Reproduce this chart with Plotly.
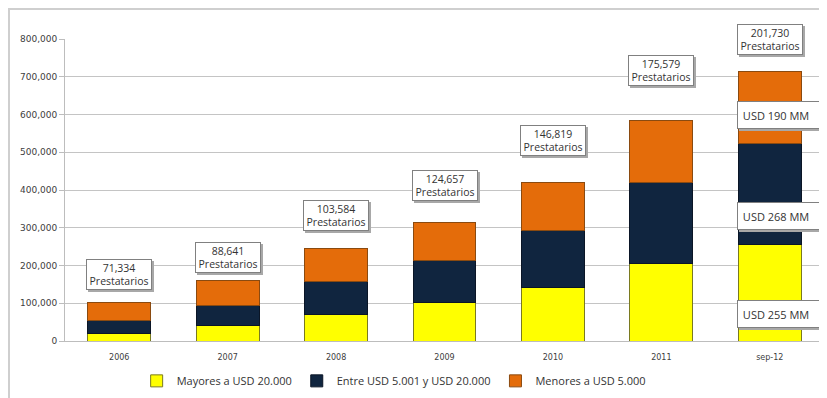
import plotly.graph_objects as go

categories = ["2006", "2007", "2008", "2009", "2010", "2011", "sep-12"]
mayores = [19000, 42000, 71000, 101000, 142000, 206000, 255000]
entre = [36000, 53000, 86000, 111000, 150000, 213000, 268000]
menores = [48000, 66000, 89000, 102000, 127000, 164000, 190000]
prestatarios = ["71,334", "88,641", "103,584", "124,657", "146,819", "175,579", "201,730"]
box_y = [176000, 220000, 332000, 411000, 531000, 717000, 798000]
usd_labels = ["USD 255 MM", "USD 268 MM", "USD 190 MM"]
usd_y = [71500, 331000, 599000]

series_names = ["Mayores a USD 20.000", "Entre USD 5.001 y USD 20.000", "Menores a USD 5.000"]
colors = ["#FFFF00", "#10253F", "#E46C0A"]
edge = ["#7a7a20", "#0a1526", "#8a4a10"]

fig = go.Figure()
for name, vals, c, e in zip(series_names, [mayores, entre, menores], colors, edge):
    fig.add_trace(go.Bar(x=categories, y=vals, name=name,
                         marker=dict(color=c, line=dict(color=e, width=1))))

ann_font = dict(family="Open Sans, Arial", size=10.5, color="#333333")
for i, (txt, yy) in enumerate(zip(prestatarios, box_y)):
    label = f"{txt}<br>Prestatarios"
    # shadow box
    fig.add_annotation(x=i, y=yy, xref="x", yref="y", text="&nbsp;", showarrow=False,
                       font=dict(size=9, color="rgba(0,0,0,0)"),
                       bgcolor="#a8a8a8", bordercolor="#a8a8a8", borderwidth=1,
                       width=62, height=27, borderpad=1, xshift=2, yshift=-2)
    fig.add_annotation(x=i, y=yy, xref="x", yref="y", text=label, showarrow=False,
                       font=ann_font, bgcolor="white", bordercolor="#808080", borderwidth=1,
                       width=62, height=27, borderpad=1)

last = len(categories) - 1
for txt, yy in zip(usd_labels, usd_y):
    fig.add_annotation(x=last, y=yy, xref="x", yref="y", text="&nbsp;", showarrow=False,
                       font=dict(size=9, color="rgba(0,0,0,0)"),
                       bgcolor="#a8a8a8", bordercolor="#a8a8a8", borderwidth=1,
                       width=100, height=22, borderpad=2, align="left",
                       xanchor="left", xshift=-31, yshift=-2)
    fig.add_annotation(x=last, y=yy, xref="x", yref="y", text="&nbsp;" + txt, showarrow=False,
                       font=dict(family="Open Sans, Arial", size=11, color="#333333"),
                       bgcolor="white", bordercolor="#808080", borderwidth=1,
                       width=100, height=22, borderpad=2, align="left",
                       xanchor="left", xshift=-33)

# outer chart frame (at the figure edge)
fig.add_shape(type="rect", xref="paper", yref="paper",
              x0=-0.0738, x1=1.2, y0=-0.4, y1=1.0993,
              line=dict(color="#cfcfcf", width=2), fillcolor="rgba(0,0,0,0)", layer="below")

fig.update_layout(
    width=827, height=398,
    margin=dict(l=57, r=11, t=31, b=65),
    barmode="stack", bargap=0.42,
    plot_bgcolor="white", paper_bgcolor="white",
    font=dict(family="DejaVu Sans, Verdana", size=8, color="#404040"),
    showlegend=True,
    legend=dict(orientation="h", x=0.433, y=-0.132, xanchor="center", yanchor="middle",
                font=dict(family="Open Sans, Arial", size=11, color="#333333"),
                traceorder="normal"),
    xaxis=dict(type="category", categoryorder="array", categoryarray=categories,
               range=[-0.5, len(categories) - 0.5],
               showline=True, linecolor="#bdbdbd", linewidth=1, ticks="",
               ticklabelstandoff=8,
               tickfont=dict(size=8, color="#404040")),
    yaxis=dict(range=[0, 800000], dtick=100000, tickformat=",d",
               showgrid=True, gridcolor="#c4c4c4", gridwidth=1,
               showline=True, linecolor="#bdbdbd", linewidth=1,
               ticks="outside", ticklen=5, tickcolor="#bdbdbd",
               tickfont=dict(size=9, color="#404040"), zeroline=False),
)

fig.write_html("out.html")
